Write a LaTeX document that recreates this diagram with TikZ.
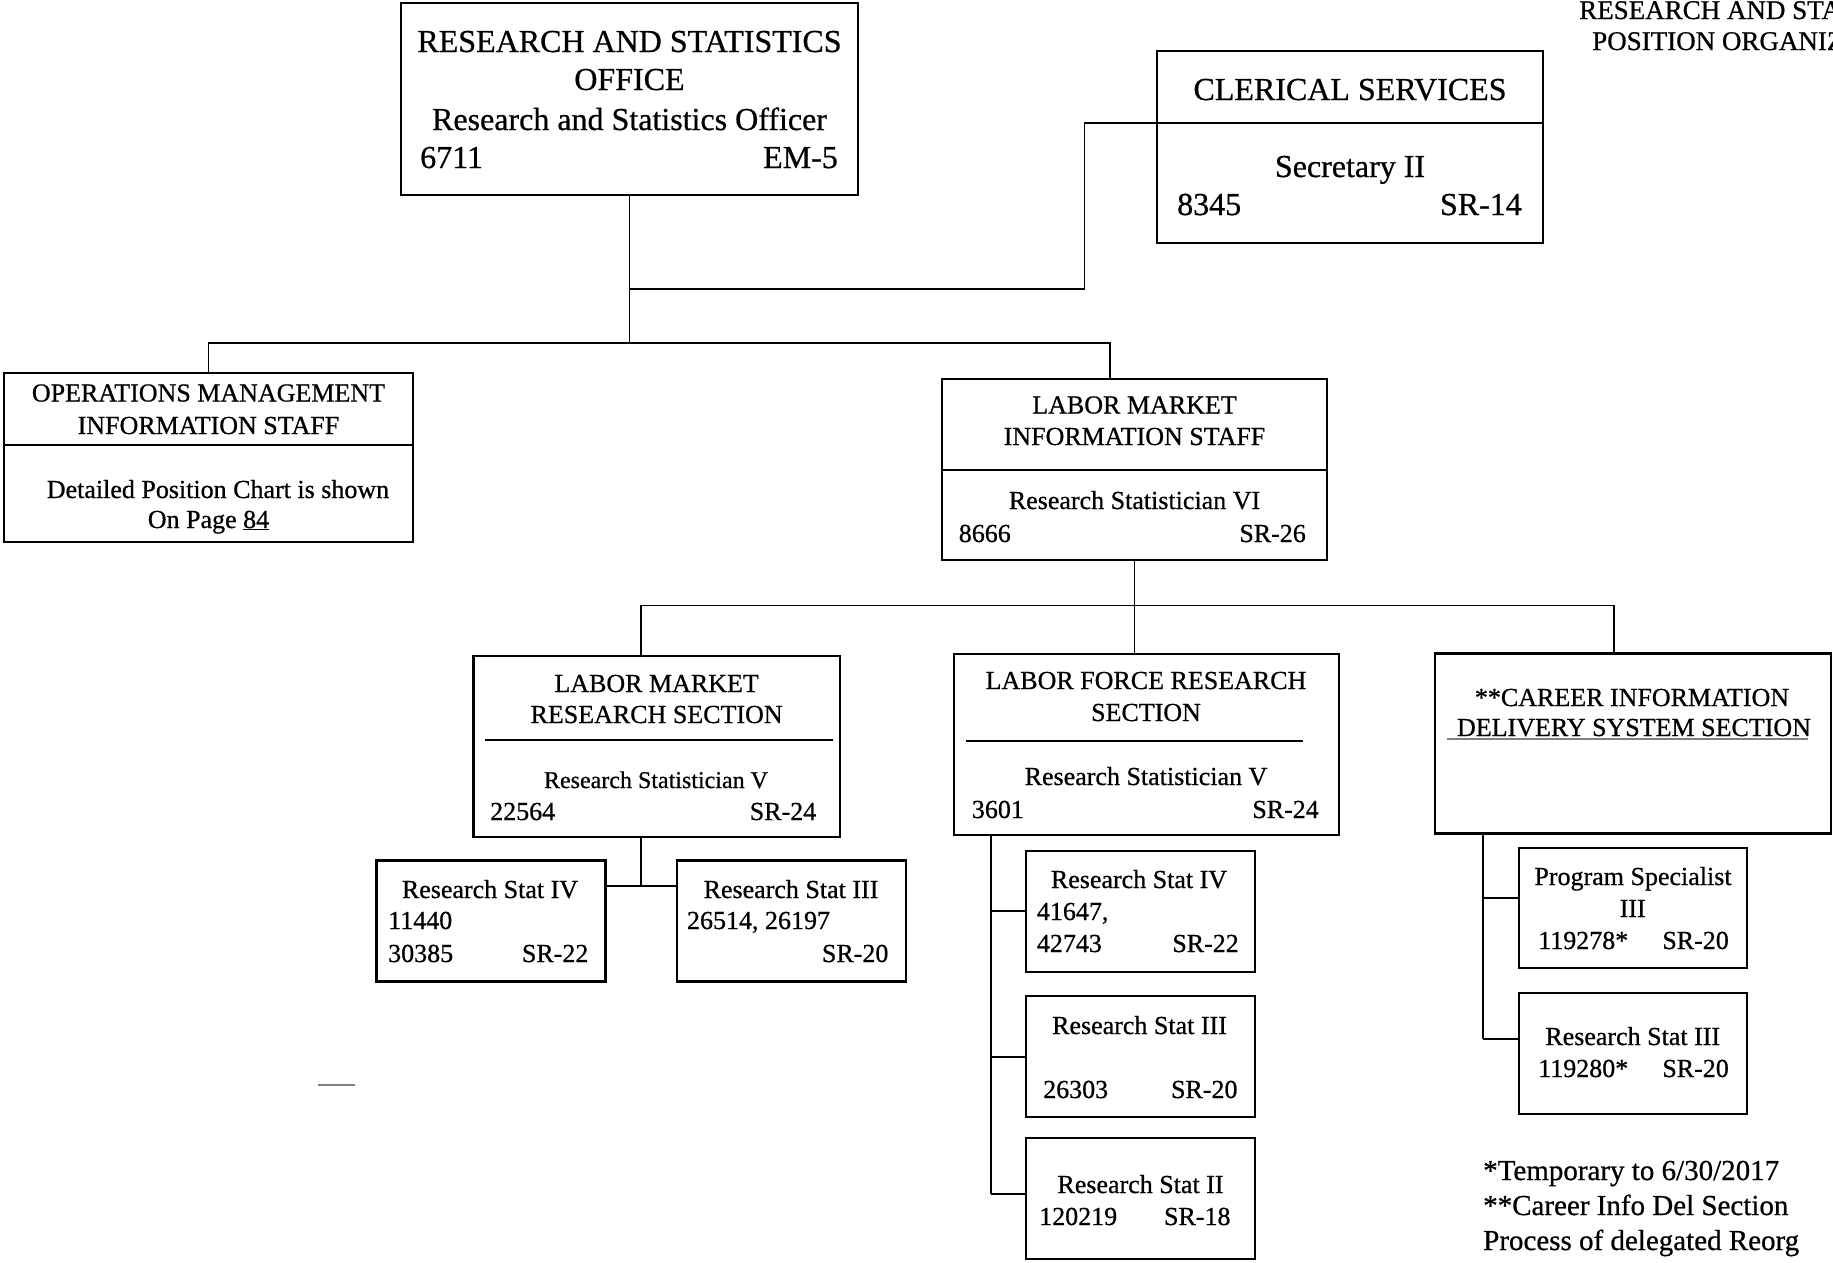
\documentclass[tikz,border=0pt]{standalone}
\usepackage{fontspec}
\setmainfont{Liberation Serif}[FakeBold=0.7]

\begin{document}
\begin{tikzpicture}[x=1pt, y=-1pt,
    box/.style={draw, line width=2.4pt, inner sep=0pt},
    sub/.style={box, minimum width=229pt, minimum height=121pt},
    wire/.style={line width=1.6pt},
    txt/.style={inner sep=0pt, anchor=base, font=\fontsize{26}{31}\selectfont},
    txtl/.style={txt, anchor=base west},
    txtr/.style={txt, anchor=base east},
    big/.style={font=\fontsize{32}{38}\selectfont},
    small/.style={font=\fontsize{24}{29}\selectfont},
    note/.style={font=\fontsize{29}{35}\selectfont}]

    \useasboundingbox (0,0) rectangle (1833,1262);

    % office and clerical
    \node[box, minimum width=457pt, minimum height=192pt] (office) at (629.5,99) {};
    \node[txt, big] (office1) at (629.5,52) {RESEARCH AND STATISTICS};
    \node[txt, big] (office2) at (629.5,90) {OFFICE};
    \node[txt, big] (office3) at (629.5,130) {Research and Statistics Officer};
    \node[txtl, big] (office4) at (420,168) {6711};
    \node[txtr, big] (office5) at (838,168) {EM-5};

    \node[box, minimum width=386pt, minimum height=192pt] (clerical) at (1350,147) {};
    \draw[wire] (clerical.west |- 0,123) -- (clerical.east |- 0,123);
    \node[txt, big] (cler1) at (1350,100) {CLERICAL SERVICES};
    \node[txt, big] (cler2) at (1350,177) {Secretary II};
    \node[txtl, big] (cler3) at (1177,215) {8345};
    \node[txtr, big] (cler4) at (1522,215) {SR-14};

    \node[txtl, font=\fontsize{27}{31}\selectfont] (title1) at (1579,19) {RESEARCH AND STA};
    \node[txtl, font=\fontsize{27}{31}\selectfont] (title2) at (1592,50) {POSITION ORGANIZ};

    % staffs
    \node[box, minimum width=409pt, minimum height=169pt] (opsmis) at (208.5,457.5) {};
    \draw[wire] (opsmis.west |- 0,445) -- (opsmis.east |- 0,445);
    \node[txt] (ops1) at (208.5,401.5) {OPERATIONS MANAGEMENT};
    \node[txt] (ops2) at (208.5,434) {INFORMATION STAFF};
    \node[txt] (ops3) at (218,498) {Detailed Position Chart is shown};
    \node[txt] (ops4) at (208.5,528) {On Page \underline{84}};

    \node[box, minimum width=385pt, minimum height=181pt] (lmi) at (1134.5,469.5) {};
    \draw[wire] (lmi.west |- 0,470) -- (lmi.east |- 0,470);
    \node[txt] (lmi1) at (1134.5,413.5) {LABOR MARKET};
    \node[txt] (lmi2) at (1134.5,445) {INFORMATION STAFF};
    \node[txt] (lmi3) at (1134.5,509) {Research Statistician VI};
    \node[txtl] (lmi4) at (958.6,542) {8666};
    \node[txtr] (lmi5) at (1306,542) {SR-26};

    % sections
    \node[box, minimum width=366.5pt, minimum height=181pt] (lmrs) at (656.8,746.5) {};
    \draw[wire] (485,740) -- (833,740);
    \node[txt] (lmrs1) at (656.6,692) {LABOR MARKET};
    \node[txt] (lmrs2) at (656.6,723) {RESEARCH SECTION};
    \node[txt, small] (lmrs3) at (656,788) {Research Statistician V};
    \node[txtl] (lmrs4) at (490,820) {22564};
    \node[txtr] (lmrs5) at (816.4,820) {SR-24};

    \node[box, minimum width=385pt, minimum height=181pt] (lfrs) at (1146.5,744.5) {};
    \draw[wire] (966,741) -- (1302.7,741);
    \node[txt] (lfrs1) at (1146,689) {LABOR FORCE RESEARCH};
    \node[txt] (lfrs2) at (1146,721) {SECTION};
    \node[txt] (lfrs3) at (1146,785) {Research Statistician V};
    \node[txtl] (lfrs4) at (971.7,818) {3601};
    \node[txtr] (lfrs5) at (1319,818) {SR-24};

    \node[box, minimum width=396pt, minimum height=180pt] (cids) at (1633,743.5) {};
    \draw[wire, gray] (1447,739) -- (1808,739);
    \node[txt] (cids1) at (1632,706) {**CAREER INFORMATION};
    \node[txt] (cids2) at (1634,736) {DELIVERY SYSTEM SECTION};

    % positions
    \node[sub] (lmrIV) at (490.85,921) {};
    \node[txt] (lmrIV1) at (490,898) {Research Stat IV};
    \node[txtl] (lmrIV2) at (388,929) {11440};
    \node[txtl] (lmrIV3) at (388,962) {30385};
    \node[txtr] (lmrIV4) at (588.6,962) {SR-22};

    \node[sub] (lmrIII) at (791.4,921) {};
    \node[txt] (lmrIII1) at (791,898) {Research Stat III};
    \node[txtl] (lmrIII2) at (686.8,929) {26514, 26197};
    \node[txtr] (lmrIII3) at (888.6,962) {SR-20};

    \node[sub] (lfrIV) at (1140.5,911.4) {};
    \node[txt] (lfrIV1) at (1139,888) {Research Stat IV};
    \node[txtl] (lfrIV2) at (1036.7,920) {41647,};
    \node[txtl] (lfrIV3) at (1036.7,952) {42743};
    \node[txtr] (lfrIV4) at (1239,952) {SR-22};

    \node[sub] (lfrIII) at (1140.5,1056.5) {};
    \node[txt] (lfrIII1) at (1139.5,1034) {Research Stat III};
    \node[txtl] (lfrIII2) at (1043,1098) {26303};
    \node[txtr] (lfrIII3) at (1237.7,1098) {SR-20};

    \node[sub] (lfrII) at (1140.5,1198.5) {};
    \node[txt] (lfrII1) at (1140.5,1193) {Research Stat II};
    \node[txtl] (lfrII2) at (1039,1225) {120219};
    \node[txtr] (lfrII3) at (1230.7,1225) {SR-18};

    \node[sub, minimum width=228pt, minimum height=120pt] (cidsPS) at (1633,908) {};
    \node[txt] (cidsPS1) at (1633,885) {Program Specialist};
    \node[txt] (cidsPS2) at (1632.7,917) {III};
    \node[txtl] (cidsPS3) at (1538,949) {119278*};
    \node[txtr] (cidsPS4) at (1729,949) {SR-20};

    \node[sub, minimum width=228pt] (cidsIII) at (1633,1053.5) {};
    \node[txt] (cidsIII1) at (1632.7,1045) {Research Stat III};
    \node[txtl] (cidsIII2) at (1538,1077) {119280*};
    \node[txtr] (cidsIII3) at (1729,1077) {SR-20};

    \node[txtl, note] (note1) at (1483,1180) {*Temporary to 6/30/2017};
    \node[txtl, note] (note2) at (1483,1215) {**Career Info Del Section};
    \node[txtl, note] (note3) at (1483,1250) {Process of delegated Reorg};

    % connectors
    \coordinate (busA) at (629.5,343);
    \coordinate (busB) at (1110,343);
    \coordinate (clTap) at (629.5,289);
    \coordinate (clBend) at (1084.5,123);
    \draw[wire] (office.south) -- (busA);
    \draw[wire] (opsmis.north) |- (busA) -- (busB) -- (busB |- lmi.north);
    \draw[wire] (clTap) -| (clBend) -- (clBend -| clerical.west);

    \coordinate (busC) at (641,605.5);
    \coordinate (busD) at (1614,605.5);
    \draw[wire] (lmi.south) -- (lmi.south |- lfrs.north);
    \draw[wire] (busC |- lmrs.north) |- (busD) -- (busD |- cids.north);

    \coordinate (lmrTap) at (641,886);
    \draw[wire] (lmrTap |- lmrs.south) -- (lmrTap);
    \draw[wire] (lmrIV.east |- lmrTap) -- (lmrIII.west |- lmrTap);

    \coordinate (lfrRail) at (991,1194);
    \draw[wire] (lfrRail |- lfrs.south) -- (lfrRail);
    \foreach \n/\yy in {lfrIV/911, lfrIII/1057, lfrII/1194}{ \draw[wire] (lfrRail |- 0,\yy) -- (\n.west |- 0,\yy); }%

    \coordinate (cidsRail) at (1483,1039);
    \draw[wire] (cidsRail |- cids.south) -- (cidsRail);
    \foreach \n/\yy in {cidsPS/898, cidsIII/1039}{ \draw[wire] (cidsRail |- 0,\yy) -- (\n.west |- 0,\yy); }%

    \draw[gray, line width=1.5pt] (318,1085) -- (355,1085);
\end{tikzpicture}
\end{document}
